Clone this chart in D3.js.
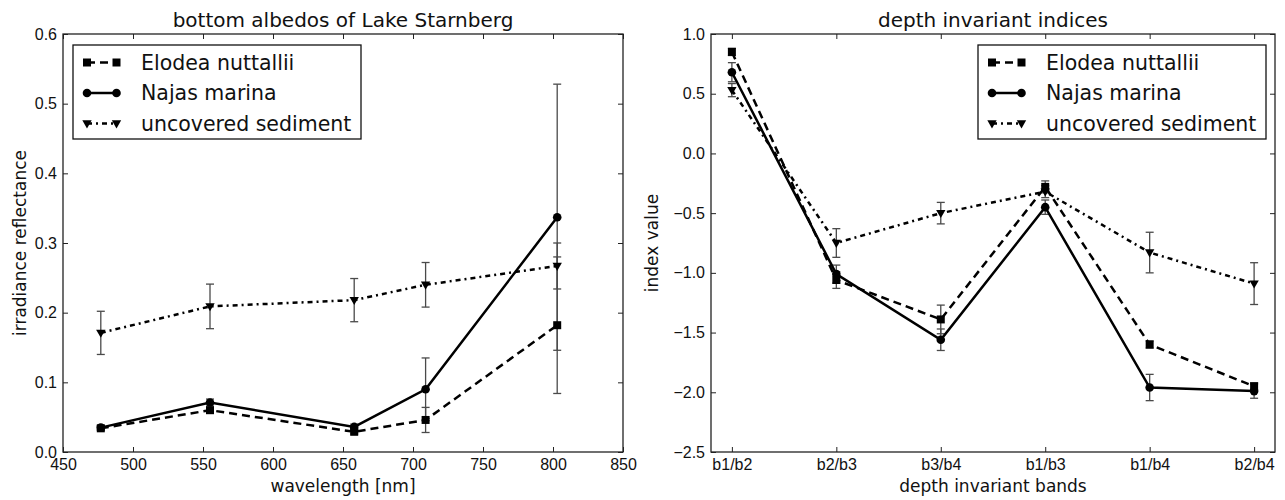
<!DOCTYPE html>
<html>
<head>
<meta charset="utf-8">
<script src="https://cdn.jsdelivr.net/npm/d3@7"></script>
<style>
  body { margin: 0; background: #fff; }
  svg { font-family: "DejaVu Sans", sans-serif; }
</style>
</head>
<body>
<script>
var w = 1285,
    h = 500;

// left panel: bottom albedos
var wavelengths = [477, 555, 658, 709, 803];
var elodeaAlbedo = [0.034, 0.060, 0.029, 0.046, 0.182];
var elodeaAlbedoErr = [0.003, 0.004, 0.003, 0.018, 0.098];
var najasAlbedo = [0.035, 0.071, 0.036, 0.090, 0.337];
var najasAlbedoErr = [0.003, 0.005, 0.004, 0.045, 0.191];
var sedimentAlbedo = [0.171, 0.209, 0.218, 0.240, 0.267];
var sedimentAlbedoErr = [0.031, 0.032, 0.031, 0.032, 0.033];

// right panel: depth invariant indices
var bands = ['b1/b2', 'b2/b3', 'b3/b4', 'b1/b3', 'b1/b4', 'b2/b4'];
var elodeaIndex = [0.85, -1.06, -1.39, -0.28, -1.60, -1.95];
var elodeaIndexErr = [0.03, 0.07, 0.12, 0.05, 0.03, 0.03];
var najasIndex = [0.68, -1.01, -1.56, -0.45, -1.96, -1.99];
var najasIndexErr = [0.08, 0.075, 0.09, 0.06, 0.11, 0.06];
var sedimentIndex = [0.53, -0.75, -0.50, -0.32, -0.83, -1.09];
var sedimentIndexErr = [0.055, 0.12, 0.09, 0.05, 0.17, 0.175];

var seriesNames = ['Elodea nuttallii', 'Najas marina', 'uncovered sediment'];
var dashes = ['8,5', null, '5,4,2,4'];
var markers = ['square', 'circle', 'triangle'];

var svg = d3.select('body')
  .append('svg')
  .attr('width', w)
  .attr('height', h);

function markerPath(kind) {
  if (kind === 'square') return d3.symbol(d3.symbolSquare, 64)();
  if (kind === 'circle') return d3.symbol(d3.symbolCircle, 58)();
  return d3.symbol(d3.symbolTriangle, 38)();
}

function markerTransform(kind, px, py) {
  // matplotlib 'v' points down
  if (kind === 'triangle') return 'translate(' + px + ',' + (py - 0.5) + ') rotate(180)';
  return 'translate(' + px + ',' + py + ')';
}

function drawPanel(opt) {
  var x = opt.x, y = opt.y;
  var x0 = x.range()[0], x1 = x.range()[1],
      yb = y.range()[0], yt = y.range()[1];
  var g = svg.append('g').style('color', '#111');

  // ticks, all pointing inwards
  var bottom = d3.axisBottom(x).tickSizeInner(-5).tickSizeOuter(0).tickPadding(7);
  var top = d3.axisTop(x).tickSizeInner(-5).tickSizeOuter(0).tickFormat('');
  if (opt.xTickValues) {
    bottom.tickValues(opt.xTickValues).tickFormat(opt.xTickFormat);
    top.tickValues(opt.xTickValues);
  } else {
    bottom.ticks(8);
    top.ticks(8);
  }
  var left = d3.axisLeft(y).ticks(7).tickFormat(d3.format('.1f'))
    .tickSizeInner(-5).tickSizeOuter(0).tickPadding(6);
  var right = d3.axisRight(y).ticks(7).tickFormat('').tickSizeInner(-5).tickSizeOuter(0);

  g.append('g').attr('transform', 'translate(0,' + yb + ')').call(bottom);
  g.append('g').attr('transform', 'translate(0,' + yt + ')').call(top);
  g.append('g').attr('transform', 'translate(' + x0 + ',0)').call(left);
  g.append('g').attr('transform', 'translate(' + x1 + ',0)').call(right);
  g.selectAll('.domain').remove();
  g.selectAll('.tick line').attr('stroke', '#222').attr('stroke-width', 1);
  g.selectAll('.tick text').attr('font-size', 16).attr('fill', '#111');

  // data
  var xs = opt.xValues;
  opt.values.forEach(function(vals, s) {
    var errs = opt.errors[s];
    var eb = g.append('g').attr('stroke', '#4a4a4a').attr('stroke-width', 1.3).attr('fill', 'none');
    vals.forEach(function(v, i) {
      var px = x(xs[i]);
      eb.append('line')
        .attr('x1', px).attr('x2', px)
        .attr('y1', y(v - errs[i])).attr('y2', y(v + errs[i]));
      [v - errs[i], v + errs[i]].forEach(function(e) {
        eb.append('line')
          .attr('x1', px - 4).attr('x2', px + 4)
          .attr('y1', y(e)).attr('y2', y(e));
      });
    });
  });

  opt.values.forEach(function(vals, s) {
    var line = d3.line()
      .x(function(d, i) { return x(xs[i]); })
      .y(function(d) { return y(d); });
    g.append('path')
      .datum(vals)
      .attr('d', line)
      .attr('fill', 'none')
      .attr('stroke', '#000')
      .attr('stroke-width', 2.5)
      .attr('stroke-dasharray', dashes[s]);
    g.selectAll(null)
      .data(vals)
      .enter()
      .append('path')
      .attr('d', markerPath(markers[s]))
      .attr('transform', function(d, i) { return markerTransform(markers[s], x(xs[i]), y(d)); })
      .attr('fill', '#000');
  });

  // frame
  g.append('rect')
    .attr('x', x0).attr('y', yt)
    .attr('width', x1 - x0).attr('height', yb - yt)
    .attr('fill', 'none').attr('stroke', '#222').attr('stroke-width', 1.3);

  // texts
  g.append('text')
    .attr('x', (x0 + x1) / 2).attr('y', 27)
    .attr('text-anchor', 'middle').attr('font-size', 20).attr('fill', '#111')
    .text(opt.title);
  g.append('text')
    .attr('x', (x0 + x1) / 2).attr('y', 492)
    .attr('text-anchor', 'middle').attr('font-size', 17).attr('fill', '#111')
    .text(opt.xlabel);
  g.append('text')
    .attr('transform', 'translate(' + opt.ylabelX + ',' + (yb + yt) / 2 + ') rotate(-90)')
    .attr('text-anchor', 'middle').attr('font-size', 17).attr('fill', '#111')
    .text(opt.ylabel);

  // legend
  var lg = g.append('g').attr('transform', 'translate(' + opt.legendX + ',45)');
  lg.append('rect')
    .attr('width', 288).attr('height', 94)
    .attr('fill', '#fff').attr('stroke', '#111').attr('stroke-width', 1.3);
  seriesNames.forEach(function(name, s) {
    var cy = 17.5 + s * 30.5;
    lg.append('line')
      .attr('x1', 14).attr('x2', 43.5).attr('y1', cy).attr('y2', cy)
      .attr('stroke', '#000').attr('stroke-width', 2.5)
      .attr('stroke-dasharray', dashes[s]);
    [14, 43.5].forEach(function(mx) {
      lg.append('path')
        .attr('d', markerPath(markers[s]))
        .attr('transform', markerTransform(markers[s], mx, cy))
        .attr('fill', '#000');
    });
    lg.append('text')
      .attr('x', 68).attr('y', cy + 7)
      .attr('font-size', 20.5).attr('fill', '#111')
      .text(name);
  });
}

drawPanel({
  x: d3.scaleLinear().domain([450, 850]).range([63, 623]),
  y: d3.scaleLinear().domain([0, 0.6]).range([452, 34]),
  xValues: wavelengths,
  values: [elodeaAlbedo, najasAlbedo, sedimentAlbedo],
  errors: [elodeaAlbedoErr, najasAlbedoErr, sedimentAlbedoErr],
  title: 'bottom albedos of Lake Starnberg',
  xlabel: 'wavelength [nm]',
  ylabel: 'irradiance reflectance',
  ylabelX: 26,
  legendX: 73
});

drawPanel({
  x: d3.scaleLinear().domain([-0.2, 5.2]).range([711, 1275]),
  y: d3.scaleLinear().domain([-2.5, 1.0]).range([452, 34]),
  xValues: d3.range(bands.length),
  xTickValues: d3.range(bands.length),
  xTickFormat: function(i) { return bands[i]; },
  values: [elodeaIndex, najasIndex, sedimentIndex],
  errors: [elodeaIndexErr, najasIndexErr, sedimentIndexErr],
  title: 'depth invariant indices',
  xlabel: 'depth invariant bands',
  ylabel: 'index value',
  ylabelX: 658,
  legendX: 978
});
</script>
</body>
</html>
